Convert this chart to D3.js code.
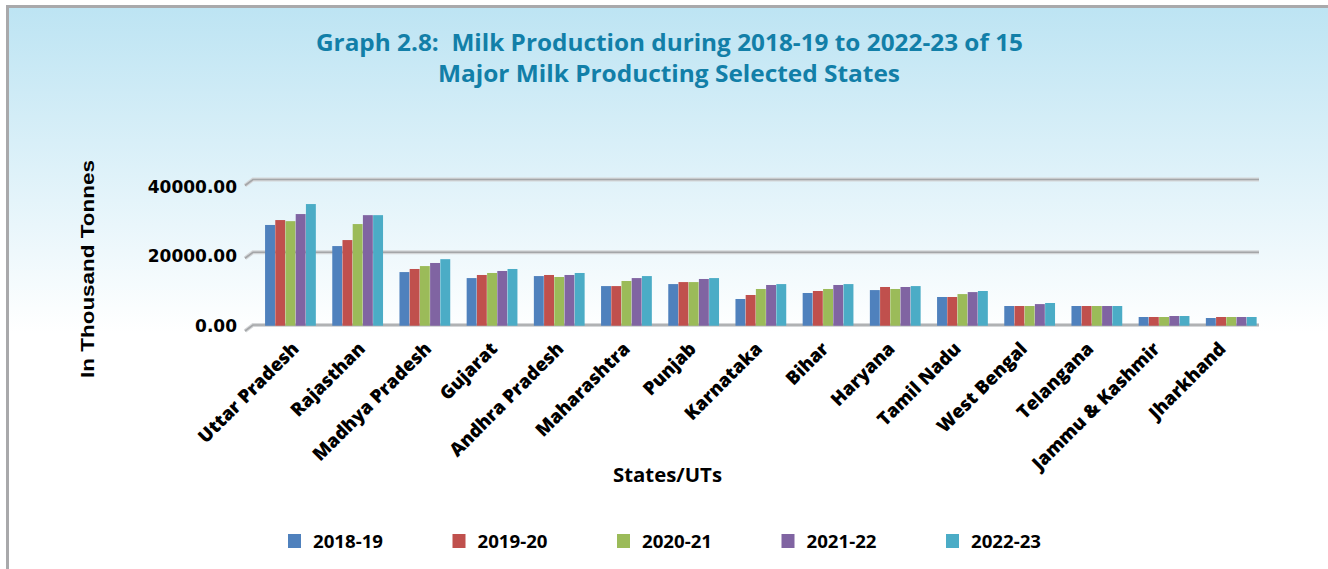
<!DOCTYPE html>
<html><head><meta charset="utf-8">
<script src="https://cdn.jsdelivr.net/npm/d3@7"></script>
<style>body{margin:0;background:#fff}svg{display:block}</style>
</head><body>
<svg id="c" width="1328" height="569"></svg>
<script>
const states = ["Uttar Pradesh","Rajasthan","Madhya Pradesh","Gujarat","Andhra Pradesh","Maharashtra","Punjab","Karnataka","Bihar","Haryana","Tamil Nadu","West Bengal","Telangana","Jammu & Kashmir","Jharkhand"];
const years = ["2018-19","2019-20","2020-21","2021-22","2022-23"];
const colors = ["#4f81bd","#c0504d","#9bbb59","#8064a2","#4bacc6"];
const v2018 = [27500,21700,14550,12900,13450,10700,11250,7150,8800,9600,7700,5220,5220,2200,1920];
const v2019 = [28850,23350,15400,13750,13750,10700,11800,8250,9350,10450,7700,5220,5220,2200,2200];
const v2020 = [28550,27750,16200,14300,13200,12100,11800,9900,9900,9900,8500,5220,5220,2200,2200];
const v2021 = [30500,30200,17050,14850,13750,12900,12650,11000,11000,10450,9050,5750,5220,2470,2200];
const v2022 = [33250,30200,18100,15400,14300,13450,12900,11250,11250,10700,9350,6050,5220,2470,2200];
const series = [v2018,v2019,v2020,v2021,v2022];
const yTicks = [0,20000,40000];

const svg = d3.select("#c");
const defs = svg.append("defs");
const g = defs.append("linearGradient").attr("id","bg").attr("x1",0).attr("y1",0).attr("x2",0).attr("y2",1);
g.append("stop").attr("offset","0%").attr("stop-color","#bde4f3");
g.append("stop").attr("offset","58%").attr("stop-color","#ffffff");
g.append("stop").attr("offset","100%").attr("stop-color","#ffffff");

svg.append("rect").attr("x",0).attr("y",0).attr("width",1328).attr("height",569).attr("fill","#fff");
svg.append("rect").attr("x",9).attr("y",8).attr("width",1319).attr("height",561).attr("fill","url(#bg)");
svg.append("rect").attr("x",6).attr("y",5).attr("width",1322).attr("height",3).attr("fill","#a9a9ab");
svg.append("rect").attr("x",6).attr("y",5).attr("width",3).attr("height",564).attr("fill","#a9a9ab");

// title
const title = svg.append("g").attr("fill","#127fa8").attr("font-family","'Open Sans', sans-serif").attr("font-weight","bold").attr("font-size",24).attr("text-anchor","middle");
title.append("text").attr("x",669.5).attr("y",51).attr("textLength",707).attr("lengthAdjust","spacingAndGlyphs").attr("xml:space","preserve").text("Graph 2.8:  Milk Production during 2018-19 to 2022-23 of 15");
title.append("text").attr("x",669).attr("y",82).attr("textLength",462).attr("lengthAdjust","spacingAndGlyphs").text("Major Milk Producting Selected States");

const x = d3.scaleBand().domain(states).range([257,1265]).paddingInner(0.24).paddingOuter(0.12);
const xi = d3.scaleBand().domain(years).range([0,x.bandwidth()]);
const xLab = d3.scalePoint().domain(states).range([300,1227]);
const y = d3.scaleLinear().domain([0,40000]).range([325,179.5]);
const yLab = d3.scaleLinear().domain([0,40000]).range([325.5,186.7]);

// gridlines with depth diagonal
const grid = svg.append("g");
yTicks.forEach(t=>{
  const yy = y(t);
  grid.append("path").attr("d",`M245,${yy+6}L253,${yy}L1259,${yy}`).attr("fill","none").attr("stroke","#d4d6d8").attr("stroke-width",4);
  grid.append("path").attr("d",`M245,${yy+6}L253,${yy}L1259,${yy}`).attr("fill","none").attr("stroke","#a4a6a8").attr("stroke-width",1.6);
});

// y tick labels
svg.append("g").selectAll("text").data(yTicks).join("text")
  .attr("x",237).attr("y",d=>yLab(d)).attr("dy","0.36em").attr("text-anchor","end")
  .attr("font-family","'DejaVu Sans', sans-serif").attr("font-weight","bold").attr("font-size",17).attr("fill","#000")
  .text(d=>d3.format(".2f")(d));

// bars
const groups = svg.append("g").selectAll("g").data(states).join("g").attr("transform",d=>`translate(${x(d)},0)`);
groups.selectAll("rect").data((d,i)=>years.map((yr,j)=>({yr,j,v:series[j][i]}))).join("rect")
  .attr("x",d=>xi(d.yr)).attr("width",xi.bandwidth()-0.3)
  .attr("y",d=>y(d.v)).attr("height",d=>y(0)-y(d.v)+0.7)
  .attr("fill",d=>colors[d.j]);

// x labels
svg.append("g").selectAll("text").data(states).join("text")
  .attr("transform",d=>`translate(${xLab(d)},350) rotate(-45)`)
  .attr("text-anchor","end")
  .attr("font-family","'Open Sans', sans-serif").attr("font-weight","800").attr("font-size",18.5).attr("fill","#000")
  .text(d=>d);

// axis titles
svg.append("text").attr("x",667.5).attr("y",482).attr("text-anchor","middle")
  .attr("font-family","'Open Sans', sans-serif").attr("font-weight","bold").attr("font-size",19)
  .attr("textLength",109).attr("lengthAdjust","spacingAndGlyphs").text("States/UTs");
svg.append("text").attr("transform","translate(94,269) rotate(-90)").attr("text-anchor","middle")
  .attr("font-family","'Liberation Sans', Arial, sans-serif").attr("font-weight","bold").attr("font-size",18)
  .attr("textLength",218).attr("lengthAdjust","spacingAndGlyphs").text("In Thousand Tonnes");

// legend
const legX = d3.scalePoint().domain(years).range([288,946]);
const leg = svg.append("g").selectAll("g").data(years).join("g").attr("transform",d=>`translate(${legX(d)},534)`);
leg.append("rect").attr("width",13).attr("height",14).attr("fill",(d,i)=>colors[i]);
leg.append("text").attr("x",25).attr("y",13.5)
  .attr("font-family","'Open Sans', sans-serif").attr("font-weight","bold").attr("font-size",18)
  .attr("textLength",70).attr("lengthAdjust","spacingAndGlyphs").text(d=>d);
</script>
</body></html>
